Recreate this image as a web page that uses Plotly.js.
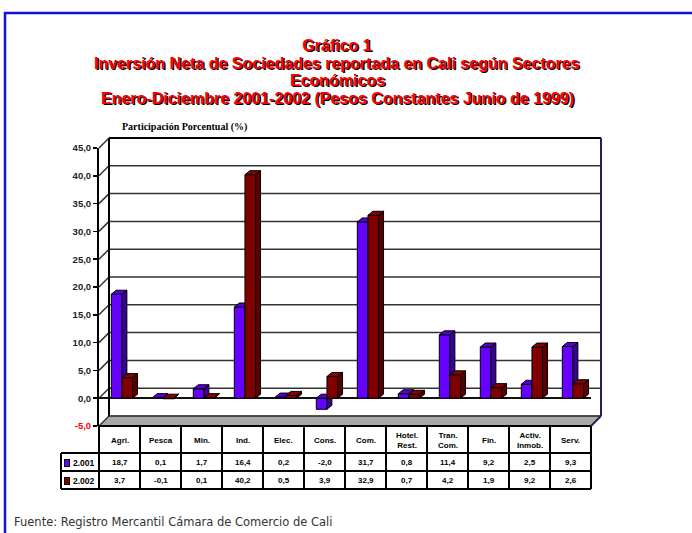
<!DOCTYPE html>
<html>
<head>
<meta charset="utf-8">
<script src="https://cdn.plot.ly/plotly-3.0.1.min.js"></script>
<style>html,body{margin:0;padding:0;background:#fff;}#chart{width:692px;height:533px;}</style>
</head>
<body>
<div id="chart"></div>
<script>
// ---- data ----
const categories = ['Agri.', 'Pesca', 'Min.', 'Ind.', 'Elec.', 'Cons.', 'Com.', 'Hotel.<br>Rest.', 'Tran.<br>Com.', 'Fin.', 'Activ.<br>Inmob.', 'Serv.'];
const series2001 = [18.7, 0.1, 1.7, 16.4, 0.2, -2.0, 31.7, 0.8, 11.4, 9.2, 2.5, 9.3];
const series2002 = [3.7, -0.1, 0.1, 40.2, 0.5, 3.9, 32.9, 0.7, 4.2, 1.9, 9.2, 2.6];
const seriesNames = ['2.001', '2.002'];
const yTicks = [-5, 0, 5, 10, 15, 20, 25, 30, 35, 40, 45];
const titleLines = ['Gráfico 1', 'Inversión Neta de Sociedades reportada en Cali según Sectores', 'Económicos', 'Enero-Diciembre 2001-2002 (Pesos Constantes Junio de 1999)'];

// ---- style / geometry ----
const BLUE = '#6600ff', BLUE_TOP = '#5500d8', BLUE_SIDE = '#3a0099';
const RED = '#800000', RED_TOP = '#8a0000', RED_SIDE = '#5a0000';
const W = 692, H = 533;
const L = 61, R = 601, T = 138, B = 489;          // plot area in px
const px = X => (X - L) / (R - L);
const py = Y => (B - Y) / (B - T);
const FX0 = 99, FX1 = 591, FY0 = 426, FY1 = 148;  // front wall px
const DEPTH = 10;
const Yf = v => FY0 - (v + 5) * (FY0 - FY1) / 50;
const Yb = v => Yf(v) - DEPTH;
const fmt = v => v.toFixed(1).replace('.', ',');

const idx = categories.map((c, i) => i);
const BW = 0.26, OFF1 = -0.2, OFF2 = 0.06;
const DX = 0.12, DY = 0.72;

function faces(vals, off) {
  const top = {x: [], y: []}, side = {x: [], y: []};
  vals.forEach((v, i) => {
    const x0 = i + off, x1 = x0 + BW, t = Math.max(v, 0), b = Math.min(v, 0);
    top.x.push(x0, x0 + DX, x1 + DX, x1, x0, null);
    top.y.push(t, t + DY, t + DY, t, t, null);
    side.x.push(x1, x1 + DX, x1 + DX, x1, x1, null);
    side.y.push(b, b + DY, t + DY, t, b, null);
  });
  return {top, side};
}
const f1 = faces(series2001, OFF1), f2 = faces(series2002, OFF2);
const poly = (p, col, xa, ya) => ({type: 'scatter', mode: 'lines', x: p.x, y: p.y, fill: 'toself', fillcolor: col,
  line: {color: '#000', width: 1}, hoverinfo: 'skip', showlegend: false, xaxis: xa, yaxis: ya});

const traces = [
  {type: 'bar', name: seriesNames[0], x: idx, y: series2001, offset: OFF1, width: BW, marker: {color: BLUE, line: {color: '#000', width: 1}}, xaxis: 'x', yaxis: 'y', hoverinfo: 'skip'},
  poly(f1.side, BLUE_SIDE, 'x', 'y'),
  poly(f1.top, BLUE_TOP, 'x', 'y'),
  {type: 'bar', name: seriesNames[1], x: idx, y: series2002, offset: OFF2, width: BW, marker: {color: RED, line: {color: '#000', width: 1}}, xaxis: 'x2', yaxis: 'y2', hoverinfo: 'skip'},
  poly(f2.side, RED_SIDE, 'x2', 'y2'),
  poly(f2.top, RED_TOP, 'x2', 'y2')
];

// decoration shapes
const shapes = [];
const seg = (x0, y0, x1, y1, color, width, layer) => shapes.push({type: 'line', xref: 'paper', yref: 'paper', layer: layer || 'below',
  x0: px(x0), y0: py(y0), x1: px(x1), y1: py(y1), line: {color, width}});
shapes.push({type: 'path', xref: 'paper', yref: 'paper', layer: 'below',
  path: `M ${px(FX0)} ${py(FY0)} L ${px(FX1)} ${py(FY0)} L ${px(FX1 + DEPTH)} ${py(FY0 - DEPTH)} L ${px(FX0 + DEPTH)} ${py(FY0 - DEPTH)} Z`,
  fillcolor: '#a8a8a8', line: {color: '#555', width: 1}});
yTicks.forEach(v => {
  seg(FX0 + DEPTH, Yb(v), FX1 + DEPTH, Yb(v), v === 45 ? '#000' : '#333', v === 45 ? 2 : 1.5);
  seg(FX0, Yf(v), FX0 + DEPTH, Yb(v), '#333', 1.5);
});
seg(FX0 + DEPTH, Yb(45), FX0 + DEPTH, Yb(-5), '#000', 2);
seg(FX1 + DEPTH, Yb(45), FX1 + DEPTH, Yb(-5), '#20205a', 2);
seg(FX1, FY0, FX1 + DEPTH, FY0 - DEPTH, '#20205a', 2);
shapes.push({type: 'rect', xref: 'paper', yref: 'paper', layer: 'below',
  x0: px(5), y0: py(13), x1: px(720), y1: py(560), line: {color: '#1010e0', width: 2.5}, fillcolor: 'rgba(0,0,0,0)'});

// data table grid
const CW = (FX1 - FX0) / categories.length;   // column width px
const TX0 = 61, HY1 = 453, R1 = 471, R2 = 489;
seg(FX0, FY0, FX1, FY0, '#000', 2, 'above');
[HY1, R1, R2].forEach(y => seg(TX0, y, FX1, y, '#000', 2, 'above'));
seg(TX0, HY1, TX0, R2, '#000', 2, 'above');
for (let k = 0; k <= categories.length; k++) seg(FX0 + k * CW, FY0, FX0 + k * CW, R2, '#000', 2, 'above');

const titleFont = {family: 'Arial, Liberation Sans', size: 16, color: '#ff0000', weight: 'bold', shadow: '1.4px 1.4px 0px #000'};
const TCX = 337;
const titleY = [45, 64, 81, 99];

const annotations = [];
const ann = (text, X, Y, font, xanchor) => annotations.push({text, xref: 'paper', yref: 'paper', x: px(X), y: py(Y),
  xanchor: xanchor || 'center', yanchor: 'middle', showarrow: false, font});
titleLines.slice(1).forEach((t, k) => ann(t, TCX, titleY[k + 1], titleFont));
ann('Participación Porcentual (%)', 120, 127, {family: 'Liberation Serif, Times New Roman', size: 10, color: '#000', weight: 'bold'}, 'left');
ann('Fuente: Registro Mercantil Cámara de Comercio de Cali', 12, 522, {family: 'DejaVu Sans, Verdana', size: 11.5, color: '#333'}, 'left');

const tFont = {family: 'Arial, Liberation Sans', size: 8, color: '#000', weight: 'bold'};
categories.forEach((c, i) => {
  const cx = FX0 + (i + 0.5) * CW;
  ann(c, cx, (FY0 + HY1) / 2 + 0.5, tFont);
  ann(fmt(series2001[i]), cx, (HY1 + R1) / 2 + 0.5, tFont);
  ann(fmt(series2002[i]), cx, (R1 + R2) / 2 + 0.5, tFont);
});
[seriesNames[0], seriesNames[1]].forEach((n, k) => {
  const cy = (k === 0 ? (HY1 + R1) : (R1 + R2)) / 2 + 0.5;
  ann(n, 84, cy, {family: 'Arial, Liberation Sans', size: 8.5, color: '#000', weight: 'bold'});
  annotations.push({text: '\u00a0', xref: 'paper', yref: 'paper', x: px(67), y: py(cy),
    xanchor: 'center', yanchor: 'middle', showarrow: false, bgcolor: k === 0 ? BLUE : RED, bordercolor: '#000', borderwidth: 1, borderpad: 0,
    width: 4, height: 6, font: {size: 5}});
});

const layout = {
  width: W, height: H,
  margin: {l: L, r: W - R, t: T, b: H - B, pad: 0},
  paper_bgcolor: '#fff', plot_bgcolor: 'rgba(0,0,0,0)',
  showlegend: false,
  title: {text: titleLines[0], font: titleFont, xref: 'container', x: TCX / W, xanchor: 'center', yref: 'container', y: 1 - titleY[0] / H, yanchor: 'middle'},
  xaxis: {domain: [px(FX0), px(FX1)], range: [-0.5, 11.5], showticklabels: false, showgrid: false, zeroline: false, showline: false, ticks: '', fixedrange: true},
  yaxis: {domain: [py(FY0), py(FY1)], range: [-5, 45], tickvals: yTicks,
    ticktext: yTicks.map(v => v < 0 ? '<span style="color:#ff0000">' + fmt(v) + '</span>' : fmt(v)),
    showgrid: false, zeroline: true, zerolinecolor: '#111', zerolinewidth: 2,
    showline: true, linecolor: '#000', linewidth: 2, ticks: 'outside', ticklen: 4, tickwidth: 1.5, tickcolor: '#000',
    tickfont: {family: 'Arial, Liberation Sans', size: 9.5, color: '#222', weight: 'bold'}, fixedrange: true},
  xaxis2: {overlaying: 'x', anchor: 'y2', range: [-0.5, 11.5], visible: false, fixedrange: true},
  yaxis2: {overlaying: 'y', anchor: 'x2', range: [-5, 45], visible: false, fixedrange: true},
  shapes: shapes,
  annotations: annotations
};

Plotly.newPlot('chart', traces, layout, {displayModeBar: false, staticPlot: true});
</script>
</body>
</html>
